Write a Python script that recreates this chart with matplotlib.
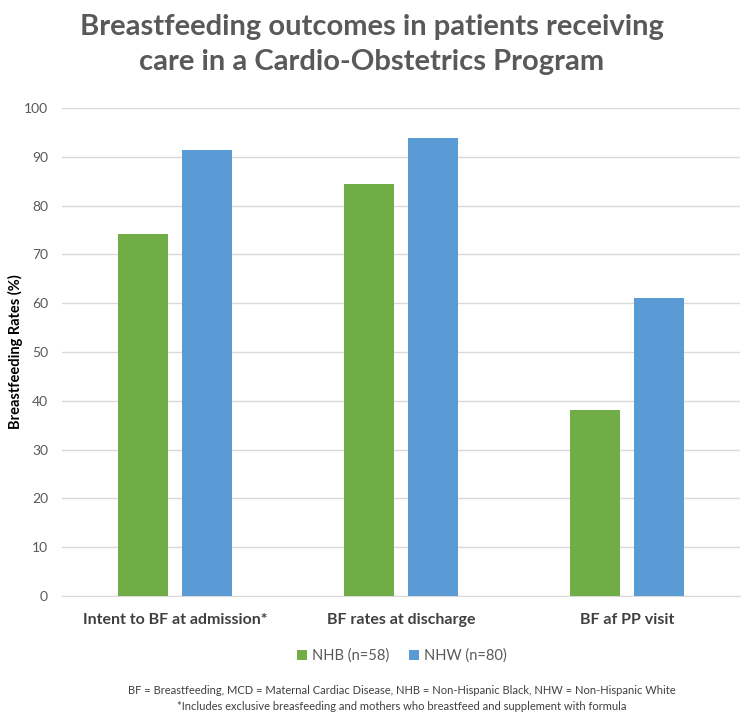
import matplotlib
matplotlib.use("Agg")
import matplotlib.pyplot as plt
import numpy as np

categories = ["Intent to BF at admission*", "BF rates at discharge", "BF af PP visit"]
nhb = [74.2, 84.5, 38.2]
nhw = [91.3, 93.8, 61.1]
series_labels = ["NHB (n=58)", "NHW (n=80)"]
yticks = list(range(0, 101, 10))

plt.rcParams['font.family'] = ['Lato', 'DejaVu Sans']

fig = plt.figure(figsize=(7.44, 7.23), dpi=100)
ax = fig.add_axes([0.0833, 0.1757, 0.9113, 0.6749])

x = np.arange(len(categories))
w = 0.221
off = 0.1416
ax.bar(x - off, nhb, width=w, color="#70AD47", label=series_labels[0], zorder=3)
ax.bar(x + off, nhw, width=w, color="#5B9BD5", label=series_labels[1], zorder=3)

ax.set_xlim(-0.5, 2.5)
ax.set_ylim(0, 100)
ax.set_yticks(yticks)
ax.yaxis.grid(True, color="#D9D9D9", linewidth=1, zorder=0)
for s in ["top", "right", "left"]:
    ax.spines[s].set_visible(False)
ax.spines["bottom"].set_color("#D9D9D9")
ax.tick_params(axis="both", length=0, colors="#595959")
ax.tick_params(axis="y", labelsize=10, pad=10)
ax.set_xticks(x)
ax.set_xticklabels(categories, fontsize=11.5, fontweight="bold", color="#404040")
ax.tick_params(axis="x", pad=12)
ax.set_ylabel("Breastfeeding Rates (%)", fontsize=10.5, fontweight="bold", color="#000000", labelpad=1)

fig.text(0.5, 0.939, "Breastfeeding outcomes in patients receiving\ncare in a Cardio-Obstetrics Program",
         ha="center", va="center", fontsize=21, fontweight="bold", color="#595959", linespacing=1.42)

leg = fig.legend(loc="center", bbox_to_anchor=(0.54, 0.0927), ncol=2, frameon=False,
                 fontsize=10.5, handlelength=0.7, handleheight=0.7, handletextpad=0.3, columnspacing=1.4)
for t in leg.get_texts():
    t.set_color("#595959")

fig.text(0.54, 0.0456, "BF = Breastfeeding, MCD = Maternal Cardiac Disease, NHB = Non-Hispanic Black, NHW = Non-Hispanic White",
         ha="center", va="center", fontsize=8, color="#404040")
fig.text(0.54, 0.0235, "*Includes exclusive breasfeeding and mothers who breastfeed and supplement with formula",
         ha="center", va="center", fontsize=8, color="#404040")

fig.savefig("out.png", dpi=100)
